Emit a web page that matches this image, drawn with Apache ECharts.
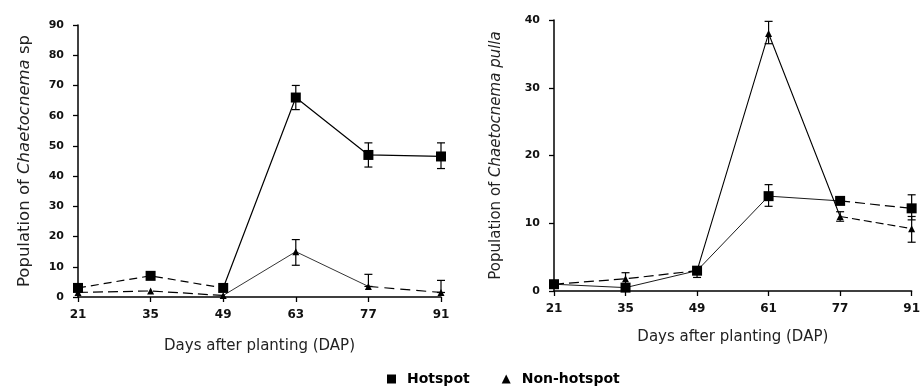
<!DOCTYPE html>
<html><head><meta charset="utf-8">
<script src="https://cdn.jsdelivr.net/npm/echarts@6/dist/echarts.min.js"></script>
<style>html,body{margin:0;padding:0;background:#fff}#c{width:923px;height:391px}</style>
</head><body><div id="c"></div>
<script>
// ---- data ----
const leftDays = ['21','35','49','63','77','91'];
const rightDays = ['21','35','49','61','77','91'];
const leftHot = [3, 7, 3, 66, 47, 46.5];
const leftHotLow = [null, null, null, 62, 43, 42.5];
const leftHotHigh = [null, null, null, 70, 51, 51];
const leftNon = [1.5, 2, 0.5, 15, 3.5, 1.5];
const leftNonLow = [null, null, null, 10.5, null, null];
const leftNonHigh = [null, null, null, 19, 7.5, 5.5];
const rightHot = [1, 0.5, 3, 14, 13.3, 12.2];
const rightHotLow = [null, null, 2, 12.5, 12.8, 10.5];
const rightHotHigh = [null, 2.7, 3.5, 15.7, 13.8, 14.2];
const rightNon = [1, 1.8, 3, 38, 11, 9.2];
const rightNonLow = [null, null, null, 36.5, 10.3, 7.2];
const rightNonHigh = [null, null, null, 39.8, 11.7, 11];
const leftTicks = {min: 0, max: 90, interval: 10};
const rightTicks = {min: 0, max: 40, interval: 10};

function seg(arr, a, b){ return arr.map((v,i)=> (i>=a && i<=b) ? v : '-'); }
function errData(low, high, vals){
  const out=[];
  for(let i=0;i<vals.length;i++){
    if(low[i]==null && high[i]==null) continue;
    out.push([i, low[i]==null?vals[i]:low[i], high[i]==null?vals[i]:high[i]]);
  }
  return out;
}
const font = 'DejaVu Sans, Arial, sans-serif';
function lineOnly(data, gi, type, width){
  return {type:'line', xAxisIndex:gi, yAxisIndex:gi, data:data, symbol:'none',
    lineStyle:{color:'#000', width:width, type:type}, animation:false, silent:true, z:3};
}
function markers(name, data, gi, symbol, size){
  return {name:name, type:'line', xAxisIndex:gi, yAxisIndex:gi, data:data,
    symbol:symbol, symbolSize:size, itemStyle:{color:'#000'},
    lineStyle:{width:0, opacity:0}, animation:false, silent:true, z:6};
}
function errSeries(data, gi){
  return {type:'custom', xAxisIndex:gi, yAxisIndex:gi, data:data, z:4, silent:true,
    renderItem:function(params, api){
      const x = api.value(0);
      const lo = api.coord([x, api.value(1)]);
      const hi = api.coord([x, api.value(2)]);
      const w = 4;
      const st = {stroke:'#000', lineWidth:1.2};
      return {type:'group', children:[
        {type:'line', shape:{x1:lo[0],y1:lo[1],x2:hi[0],y2:hi[1]}, style:st},
        {type:'line', shape:{x1:lo[0]-w,y1:lo[1],x2:lo[0]+w,y2:lo[1]}, style:st},
        {type:'line', shape:{x1:hi[0]-w,y1:hi[1],x2:hi[0]+w,y2:hi[1]}, style:st}
      ]};
    }};
}
function xAxis(gi, cats, gap){
  return {type:'category', gridIndex:gi, data:cats, boundaryGap:false,
    name:'Days after planting (DAP)', nameLocation:'middle', nameGap:gap,
    nameTextStyle:{fontFamily:font, fontSize:15, color:'#222'},
    axisLine:{lineStyle:{color:'#000', width:1.5}},
    axisTick:{alignWithLabel:true, length:5, lineStyle:{color:'#000', width:1.3}},
    axisLabel:{fontFamily:font, fontSize:12, fontWeight:'bold', color:'#111', margin:12},
    splitLine:{show:false}};
}
function yAxis(gi, t, rich, gap, fs){
  return {type:'value', gridIndex:gi, min:t.min, max:t.max, interval:t.interval,
    name: rich, nameLocation:'middle', nameGap:gap, nameRotate:90,
    nameTextStyle:{fontFamily:font, fontSize:fs, color:'#222',
      rich:{n:{fontFamily:font, fontSize:fs, color:'#222'}, i:{fontFamily:font, fontSize:fs, fontStyle:'italic', color:'#222'}}},
    axisLine:{show:true, lineStyle:{color:'#000', width:1.5}},
    axisTick:{show:true, length:5, lineStyle:{color:'#000', width:1.3}},
    axisLabel:{fontFamily:font, fontSize:11, fontWeight:'bold', color:'#111', margin:14},
    splitLine:{show:false}};
}
const chart = echarts.init(document.getElementById('c'), null, {renderer:'canvas'});
chart.setOption({
  animation:false,
  backgroundColor:'#fff',
  grid:[
    {left:78, right:482, top:25, bottom:94},
    {left:554, right:6, top:20, bottom:100}
  ],
  xAxis:[xAxis(0, leftDays, 42), xAxis(1, rightDays, 39)],
  yAxis:[
    yAxis(0, leftTicks, '{n|Population of }{i|Chaetocnema}{n| sp}', 45, 16.5),
    yAxis(1, rightTicks, '{n|Population of }{i|Chaetocnema pulla}', 50, 15)
  ],
  legend:{top:372, left:387, padding:0, itemGap:32, itemWidth:9, itemHeight:9,
    textStyle:{fontFamily:font, fontSize:14, fontWeight:'bold', color:'#000', padding:[0,0,0,6]},
    data:[{name:'Hotspot', icon:'rect'}, {name:'Non-hotspot', icon:'triangle'}]},
  series:[
    lineOnly(seg(leftHot,0,2), 0, [8,5], 1.2),
    lineOnly(seg(leftHot,2,5), 0, 'solid', 1.2),
    lineOnly(seg(leftNon,0,2), 0, [10,5], 1.2),
    lineOnly(seg(leftNon,2,4), 0, 'solid', 0.8),
    lineOnly(seg(leftNon,4,5), 0, [10,6], 1.2),
    errSeries(errData(leftHotLow, leftHotHigh, leftHot), 0),
    errSeries(errData(leftNonLow, leftNonHigh, leftNon), 0),
    markers('Hotspot', leftHot, 0, 'rect', 10),
    markers('Non-hotspot', leftNon, 0, 'triangle', 7),
    lineOnly(seg(rightHot,0,2), 1, 'solid', 0.9),
    lineOnly(seg(rightHot,2,4), 1, 'solid', 0.9),
    lineOnly(seg(rightHot,4,5), 1, [10,5], 1.2),
    lineOnly(seg(rightNon,0,2), 1, [10,5], 1.2),
    lineOnly(seg(rightNon,2,4), 1, 'solid', 1.1),
    lineOnly(seg(rightNon,4,5), 1, [8,4], 1.1),
    errSeries(errData(rightHotLow, rightHotHigh, rightHot), 1),
    errSeries(errData(rightNonLow, rightNonHigh, rightNon), 1),
    markers('Hotspot', rightHot, 1, 'rect', 10),
    markers('Non-hotspot', rightNon, 1, 'triangle', 7)
  ]
});
</script></body></html>
